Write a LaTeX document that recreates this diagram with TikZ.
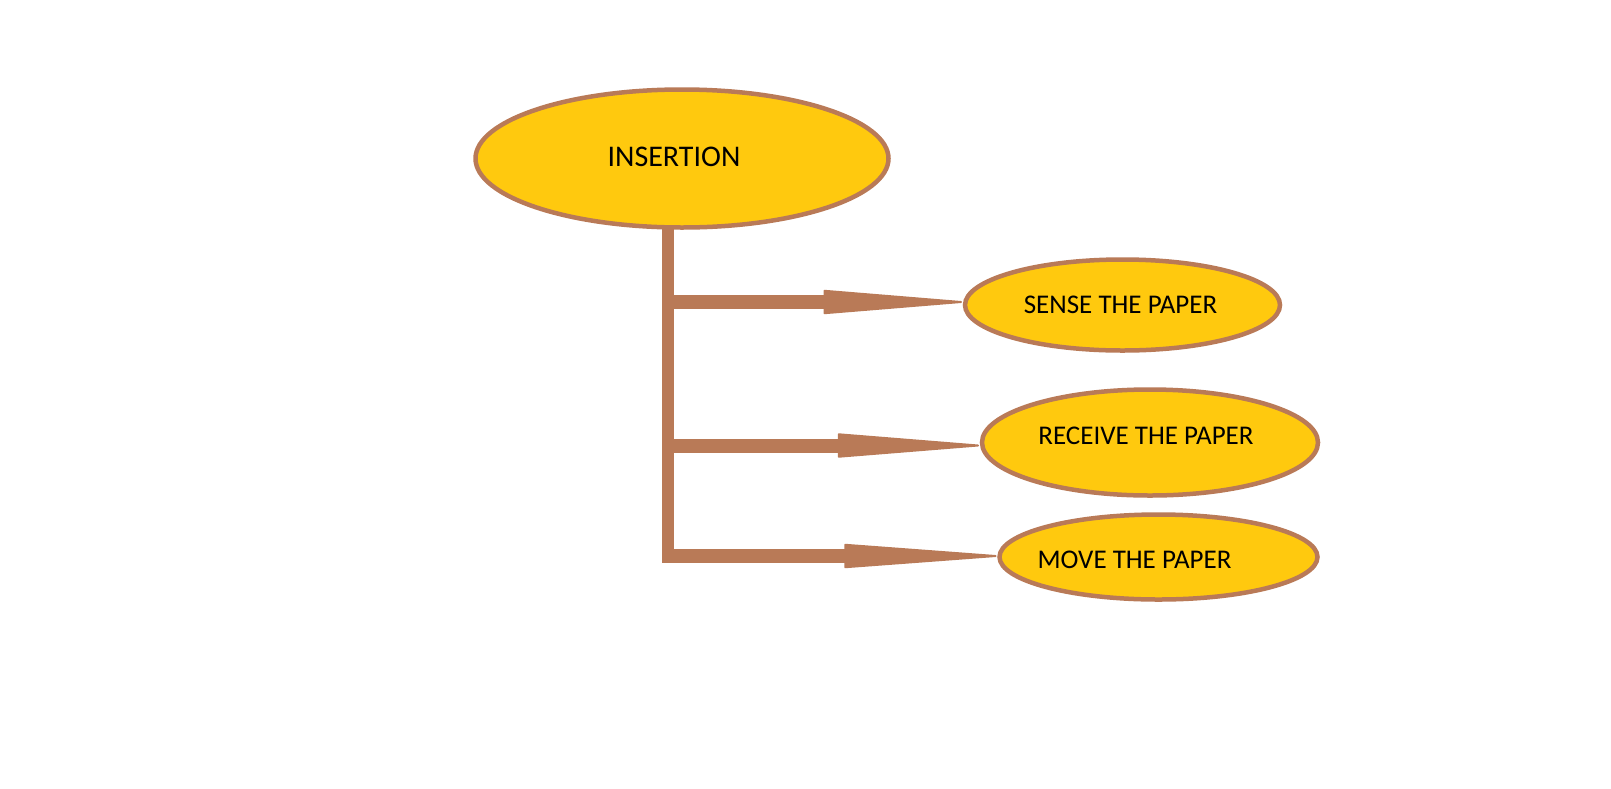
\documentclass[tikz,border=0pt]{standalone}
\usepackage{fontspec}
\setmainfont{Carlito}
\usetikzlibrary{arrows.meta,shapes.geometric,calc}
\definecolor{gold}{RGB}{255,201,14}
\definecolor{clay}{RGB}{185,122,87}

\begin{document}
\begin{tikzpicture}[x=1pt,y=-1pt,
    stage/.style={ellipse,draw=clay,fill=gold,line width=4.5pt,inner sep=0pt,outer sep=0pt},
    caption/.style={font=\fontsize{27}{31}\selectfont,text=black,inner sep=0pt},
    branch/.style={draw=clay,line width=14pt,shorten >=3pt}]
    \useasboundingbox (0,0) rectangle (1611,788);

    \node[stage,minimum width=413pt,minimum height=138pt,
          label={[caption,font=\fontsize{30}{34}\selectfont,xshift=-8pt,yshift=2pt]center:INSERTION}] (insertion) at (682,158.5) {};
    \node[stage,minimum width=315pt,minimum height=91pt,
          label={[caption,xshift=-2pt]center:SENSE THE PAPER}] (sense) at (1122.5,305) {};
    \node[stage,minimum width=336pt,minimum height=106pt,
          label={[caption,xshift=-4pt,yshift=7pt]center:RECEIVE THE PAPER}] (receive) at (1150,442.5) {};
    \node[stage,minimum width=318pt,minimum height=85pt,
          label={[caption,xshift=-24pt,yshift=-2.5pt]center:MOVE THE PAPER}] (move) at (1158.5,557) {};

    \coordinate (b1) at (668,302);
    \coordinate (b2) at (668,445.5);
    \coordinate (b3) at (668,556);

    % trunk
    \draw[clay,line width=12pt] (insertion.south -| b1) -- ($(b3)+(0,7)$);

    \draw[branch,-{Triangle[length=150pt,width=24pt,round,line width=2pt]}] (b1) -- (b1 -| sense.west);
    \draw[branch,-{Triangle[length=153pt,width=24pt,round,line width=2pt]}] (b2) -- (b2 -| receive.west);
    \draw[branch,-{Triangle[length=165pt,width=24pt,round,line width=2pt]}] (b3) -- (b3 -| move.west);
\end{tikzpicture}
\end{document}
